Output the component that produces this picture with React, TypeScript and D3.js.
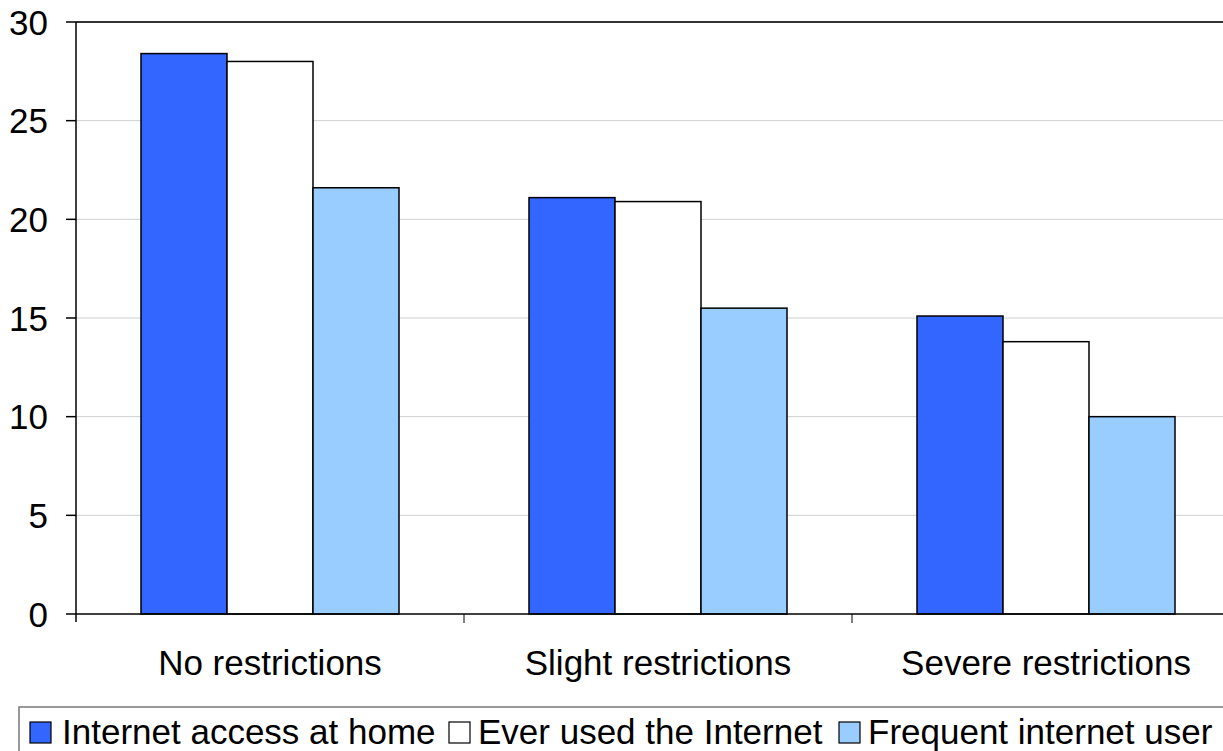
import React from "react";
import * as d3 from "d3";

const categories = ["No restrictions", "Slight restrictions", "Severe restrictions"];
const seriesNames = ["Internet access at home", "Ever used the Internet", "Frequent internet user"];
const internetAtHome = [28.4, 21.1, 15.1];
const everUsed = [28.0, 20.9, 13.8];
const frequentUser = [21.6, 15.5, 10.0];
const yTicks = [0, 5, 10, 15, 20, 25, 30];
const colors = ["#3366FF", "#FFFFFF", "#99CCFF"];

const W = 1223;
const H = 751;
const left = 76;
const top = 22;
const bottom = 614;
const plotRight = 1240;
const font = "'Liberation Sans', Arial, sans-serif";

export default function App() {
  const series = [internetAtHome, everUsed, frequentUser];
  const x = d3.scaleBand<string>().domain(categories).range([left, plotRight]).paddingInner(0).paddingOuter(0);
  const inner = d3.scaleBand<number>().domain([0, 1, 2]).range([65, x.bandwidth() - 65]);
  const y = d3.scaleLinear().domain([0, 30]).range([bottom, top]);

  // legend layout (measured text widths approximated by font metrics)
  const legendItems = [
    { sq: 30, tx: 62 },
    { sq: 449, tx: 478 },
    { sq: 839, tx: 868 },
  ];

  return (
    <svg width={W} height={H} style={{ position: "absolute", left: 0, top: 0, background: "#fff" }}>
      {/* gridlines */}
      {yTicks.filter((t) => t > 0 && t < 30).map((t) => (
        <line key={"g" + t} x1={left} x2={plotRight} y1={y(t)} y2={y(t)} stroke="#cfcfcf" strokeWidth={1} />
      ))}
      {/* plot top border */}
      <line x1={left} x2={plotRight} y1={top} y2={top} stroke="#333" strokeWidth={2} />
      {/* bars */}
      {categories.map((c, ci) => (
        <g key={c}>
          {series.map((s, si) => (
            <rect
              key={si}
              x={(x(c) as number) + (inner(si) as number)}
              y={y(s[ci])}
              width={inner.bandwidth()}
              height={y(0) - y(s[ci])}
              fill={colors[si]}
              stroke="#000"
              strokeWidth={1.5}
            />
          ))}
        </g>
      ))}
      {/* y axis */}
      <line x1={left} x2={left} y1={top} y2={bottom + 8} stroke="#000" strokeWidth={1.5} />
      {yTicks.map((t) => (
        <g key={"t" + t}>
          <line x1={left - 10} x2={left} y1={y(t)} y2={y(t)} stroke="#000" strokeWidth={1.5} />
          <text x={48} y={y(t)} dy="0.36em" textAnchor="end" fontFamily={font} fontSize={35} fill="#000">
            {t}
          </text>
        </g>
      ))}
      {/* x axis */}
      <line x1={left} x2={plotRight} y1={bottom} y2={bottom} stroke="#000" strokeWidth={1.5} />
      {categories.map((c, i) => (
        <g key={"x" + c}>
          {i > 0 && <line x1={x(c) as number} x2={x(c) as number} y1={bottom} y2={bottom + 9} stroke="#000" strokeWidth={1} />}
          <text
            x={(x(c) as number) + x.bandwidth() / 2}
            y={675}
            textAnchor="middle"
            fontFamily={font}
            fontSize={35}
            fill="#000"
          >
            {c}
          </text>
        </g>
      ))}
      {/* legend */}
      <rect x={19} y={707} width={1260} height={80} fill="#fff" stroke="#777" strokeWidth={1.5} />
      {seriesNames.map((n, i) => (
        <g key={n}>
          <rect x={legendItems[i].sq} y={722} width={21} height={21} fill={colors[i]} stroke="#000" strokeWidth={1.2} />
          <text x={legendItems[i].tx} y={744} fontFamily={font} fontSize={35} fill="#000">
            {n}
          </text>
        </g>
      ))}
    </svg>
  );
}
